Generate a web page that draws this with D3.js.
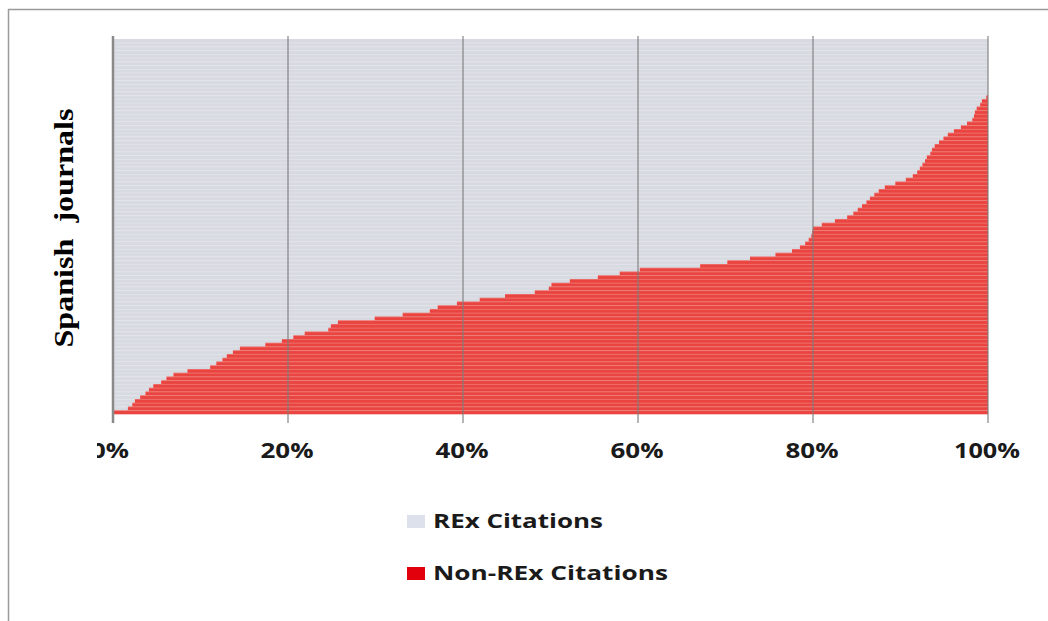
<html lang="en">
<head>
    <meta charset="utf-8">
    <title>REx citations share - Spanish journals</title>
    <style>
        body { margin: 0; background: #ffffff; }
        svg { display: block; }
        .tick-label { font-family: "Open Sans", sans-serif; font-weight: bold; font-size: 21px; fill: #1a1a1a; }
        .legend-label { font-family: "Open Sans", sans-serif; font-weight: bold; font-size: 20px; fill: #1a1a1a; }
        .y-title { font-family: "Liberation Serif", "Times New Roman", serif; font-weight: bold; font-size: 28px; fill: #000; }
    </style>
</head>
<body>
<svg id="chart" width="1048" height="621"></svg>
<script src="https://d3js.org/d3.v7.min.js"></script>
<script>
    // share of REx citations per journal (%), bottom row first
    var rexShare = [
        0.1, 1.7, 2.2, 2.5, 3.1, 3.7, 4.1, 4.6, 5.5, 6.1,
        6.9, 8.5, 11.1, 11.8, 12.5, 13.0, 13.7, 14.5, 17.4, 19.3,
        20.6, 21.9, 24.6, 24.9, 25.7, 29.9, 33.1, 36.2, 37.1, 39.3,
        41.9, 44.8, 48.2, 49.8, 50.1, 52.2, 55.4, 57.9, 60.2, 67.1,
        70.2, 72.8, 75.7, 77.6, 78.5, 79.1, 79.5, 79.8, 79.9, 80.0,
        81.0, 82.5, 83.9, 84.6, 85.1, 85.6, 86.1, 86.5, 87.0, 87.5,
        88.2, 89.4, 90.6, 91.4, 91.9, 92.2, 92.5, 92.8, 93.0, 93.4,
        93.6, 93.9, 94.4, 94.9, 95.4, 96.1, 96.9, 97.6, 98.2, 98.4,
        98.5, 98.7, 99.1, 99.3, 99.8, 100, 100, 100, 100, 100,
        100, 100, 100, 100, 100, 100, 100, 100, 100, 100
    ];
    var journals = rexShare.map((d, i) => "J" + (i + 1));
    var xTicks = [0, 20, 40, 60, 80, 100];
    var seriesNames = ["REx Citations", "Non-REx Citations"];

    var rows = journals.map((j, i) => ({journal: j, rex: rexShare[i], nonrex: 100 - rexShare[i]}));

    var svg = d3.select("#chart");
    var plotLeft = 113, plotRight = 988, plotTop = 39, plotBottom = 414;

    var x = d3.scaleLinear().domain([0, 100]).range([plotLeft, plotRight]);
    var y = d3.scaleBand().domain(journals).range([plotBottom, plotTop]).padding(0);
    var color = d3.scaleOrdinal().domain(["rex", "nonrex"]).range(["#d7dae1", "#e9443f"]);

    // outer frame (only top and left show)
    svg.append("line").attr("x1", 8.5).attr("x2", 8.5).attr("y1", 9).attr("y2", 621)
        .attr("stroke", "#9a9a9a").attr("stroke-width", 1.5);
    svg.append("line").attr("x1", 8).attr("x2", 1048).attr("y1", 9.5).attr("y2", 9.5)
        .attr("stroke", "#9a9a9a").attr("stroke-width", 1.5);

    var stack = d3.stack().keys(["rex", "nonrex"]);
    var layers = stack(rows);

    svg.append("g").selectAll("g")
        .data(layers)
        .join("g")
        .attr("fill", d => color(d.key))
        .selectAll("rect")
        .data(d => d)
        .join("rect")
        .attr("x", d => x(d[0]))
        .attr("width", d => x(d[1]) - x(d[0]))
        .attr("y", d => y(d.data.journal))
        .attr("height", y.bandwidth() + 0.3);

    // light seams between bars
    svg.append("g").selectAll("line")
        .data(journals.slice(0, -1))
        .join("line")
        .attr("x1", plotLeft).attr("x2", plotRight)
        .attr("y1", d => y(d) + 0.4).attr("y2", d => y(d) + 0.4)
        .attr("stroke", "#ffffff").attr("stroke-opacity", 0.3).attr("stroke-width", 0.8);

    // vertical gridlines
    svg.append("g").selectAll("line")
        .data(xTicks.slice(1))
        .join("line")
        .attr("x1", d => x(d)).attr("x2", d => x(d))
        .attr("y1", 36).attr("y2", 423)
        .attr("stroke", "#7d7d7d").attr("stroke-opacity", 0.75).attr("stroke-width", 1.5);
    svg.append("line")
        .attr("x1", plotLeft).attr("x2", plotLeft).attr("y1", 36).attr("y2", 423)
        .attr("stroke", "#8a8a8a").attr("stroke-width", 2.5);

    // tick labels; the 0% label is cut on its left side
    svg.append("defs").append("clipPath").attr("id", "lblclip")
        .append("rect").attr("x", 97).attr("y", 430).attr("width", 951).attr("height", 40);
    svg.append("g").attr("clip-path", "url(#lblclip)")
        .selectAll("text")
        .data(xTicks)
        .join("text")
        .attr("class", "tick-label")
        .attr("x", d => x(d) - (d === 0 ? 3 : 1))
        .attr("y", 458)
        .attr("text-anchor", "middle")
        .attr("textLength", d => d === 100 ? 66 : (d === 0 ? 38 : 53))
        .attr("lengthAdjust", "spacingAndGlyphs")
        .text(d => d + "%");

    // y-axis title
    svg.append("text")
        .attr("class", "y-title")
        .attr("transform", "translate(73,228) rotate(-90)")
        .attr("text-anchor", "middle")
        .attr("textLength", 239)
        .attr("lengthAdjust", "spacingAndGlyphs")
        .text("Spanish\u00a0 journals");

    // legend
    var legendColors = ["#dde1eb", "#e3000d"];
    var legendY = [515, 567];
    var legendW = [170, 235];
    var lg = svg.append("g").selectAll("g")
        .data(seriesNames)
        .join("g");
    lg.append("rect")
        .attr("x", 407).attr("y", (d, i) => legendY[i])
        .attr("width", 18).attr("height", 13)
        .attr("fill", (d, i) => legendColors[i]);
    lg.append("text")
        .attr("class", "legend-label")
        .attr("x", 433).attr("y", (d, i) => legendY[i] + 13)
        .attr("textLength", (d, i) => legendW[i])
        .attr("lengthAdjust", "spacingAndGlyphs")
        .text(d => d);
</script>
</body>
</html>
